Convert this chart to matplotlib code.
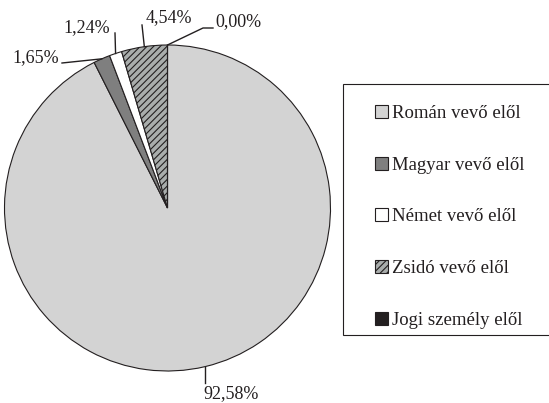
import matplotlib.pyplot as plt
from matplotlib.patches import Rectangle
import numpy as np

plt.rcParams['font.family'] = ['Liberation Serif', 'DejaVu Serif']
plt.rcParams['hatch.color'] = '#3a3a3a'
plt.rcParams['hatch.linewidth'] = 0.8

# data
categories = ['Román vevő elől', 'Magyar vevő elől', 'Német vevő elől',
              'Zsidó vevő elől', 'Jogi személy elől']
shares = [92.58, 1.65, 1.24, 4.54, 0.00]
labels = ['92,58%', '1,65%', '1,24%', '4,54%', '0,00%']
colors = ['#d3d3d3', '#7f7f7f', '#ffffff', '#a9adac', '#231f20']
hatches = [None, None, None, '/////', None]

W, H = 549, 403
fig = plt.figure(figsize=(W / 100, H / 100), dpi=100)
ax = fig.add_axes([0, 0, 1, 1])

cx, cy, r = 167.5, 195, 163
wedges, _ = ax.pie(shares, colors=colors, startangle=90, counterclock=False,
                   center=(cx, cy), radius=r, frame=True,
                   wedgeprops=dict(edgecolor='#231f20', linewidth=0.8))
for w, h in zip(wedges, hatches):
    if h:
        w.set_hatch(h)
ax.set_xlim(0, W)
ax.set_ylim(0, H)
ax.axis('off')

# leader lines: elbow points and text anchors (pixel coords, from top)
txtcol = '#231f20'
layout = [
    ([(205, 383)], (203, 394), 'left'),
    ([(62, 63)], (59, 58), 'right'),
    ([(115, 33)], (87, 28), 'center'),
    ([(142, 25)], (169, 18), 'center'),
    ([(203, 28), (213, 28)], (215, 22), 'left'),
]
for w, lab, (pts, tp, ha) in zip(wedges, labels, layout):
    ang = np.deg2rad((w.theta1 + w.theta2) / 2)
    x0, y0 = cx + r * np.cos(ang), cy + r * np.sin(ang)
    xs = [x0] + [p[0] for p in pts]
    ys = [y0] + [H - p[1] for p in pts]
    if lab == '92,58%':
        xs = [x0, x0]
    ax.plot(xs, ys, color=txtcol, lw=1.0)
    ax.text(tp[0], H - tp[1], lab, ha=ha, va='center', fontsize=13,
            color=txtcol)

# legend box runs off the right edge in the original
ax.add_patch(Rectangle((343, H - 335), 240, 251, facecolor='white',
                       edgecolor=txtcol, linewidth=0.8, clip_on=False))
leg = fig.legend(wedges, categories, loc='upper left',
                 bbox_to_anchor=(375 / W, 1 - 105 / H),
                 borderaxespad=0, borderpad=0, fontsize=13.5,
                 labelspacing=1.84, handlelength=0.7, handleheight=0.7,
                 handletextpad=0.2, frameon=False, labelcolor=txtcol)

fig.savefig('out.png', dpi=100)
